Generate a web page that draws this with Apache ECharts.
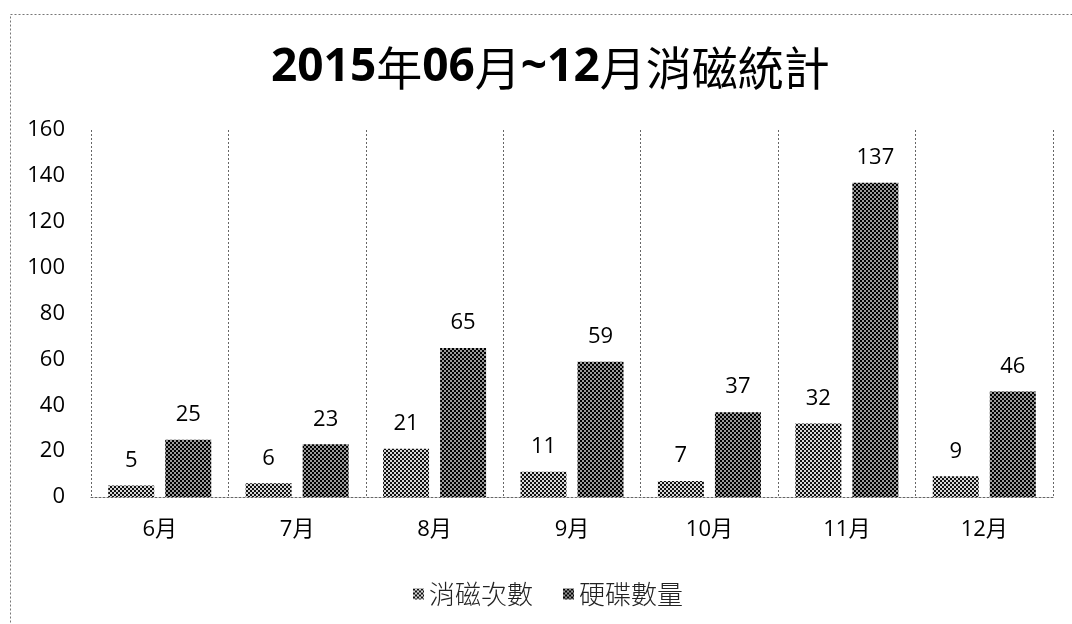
<!DOCTYPE html>
<html>
<head>
<meta charset="utf-8">
<script src="https://cdn.jsdelivr.net/npm/echarts@6/dist/echarts.min.js"></script>
<style>
  html, body { margin: 0; padding: 0; background: #fff; }
  #main { width: 1072px; height: 624px; }
</style>
</head>
<body>
<div id="main"></div>
<script>
  // 月份與數值
  var months = ['6月', '7月', '8月', '9月', '10月', '11月', '12月'];
  var seriesNames = ['消磁次數', '硬碟數量'];
  var degaussCount = [5, 6, 21, 11, 7, 32, 9];
  var diskCount = [25, 23, 65, 59, 37, 137, 46];
  var yTicks = [0, 20, 40, 60, 80, 100, 120, 140, 160];

  // 點狀花紋
  function makePattern(dark, gap) {
    var c = document.createElement('canvas');
    c.width = 4;
    c.height = 4;
    var ctx = c.getContext('2d');
    ctx.fillStyle = gap;
    ctx.fillRect(0, 0, 4, 4);
    ctx.fillStyle = dark;
    ctx.fillRect(0, 0, 2, 2);
    ctx.fillRect(2, 2, 2, 2);
    return { image: c, repeat: 'repeat' };
  }

  var numFont = '"Open Sans", "Noto Sans CJK TC", sans-serif';
  var cjkFont = '"Noto Sans CJK TC", sans-serif';
  var dotLine = { color: '#666', width: 1, type: [2, 2] };

  var chart = echarts.init(document.getElementById('main'));
  var option = {
    animation: false,
    backgroundColor: '#fff',
    graphic: [{
      type: 'rect',
      shape: { x: 10.5, y: 14.5, width: 1200, height: 800 },
      style: { fill: 'none', stroke: '#777', lineWidth: 1, lineDash: [2, 2] },
      silent: true
    }],
    title: {
      text: '{b|2015}{c|年}{b|06}{c|月}{b|~12}{c|月消磁統計}',
      left: 266,
      top: 40,
      textStyle: {
        rich: {
          b: { fontFamily: numFont, fontWeight: 'bold', fontSize: 46, color: '#000' },
          c: { fontFamily: cjkFont, fontWeight: 'normal', fontSize: 46, color: '#000' }
        }
      }
    },
    legend: {
      bottom: 12,
      left: 408,
      icon: 'rect',
      itemWidth: 11,
      itemHeight: 11,
      itemGap: 30,
      textStyle: { fontFamily: cjkFont, fontSize: 26, fontWeight: 300, color: '#222' },
      data: seriesNames
    },
    grid: { left: 91, right: 19, top: 130, bottom: 127 },
    xAxis: {
      type: 'category',
      data: months,
      axisLine: { show: true, lineStyle: dotLine },
      axisTick: { show: false },
      axisLabel: { fontFamily: numFont, fontSize: 22, color: '#000', margin: 22 },
      splitLine: { show: true, lineStyle: dotLine }
    },
    yAxis: {
      type: 'value',
      min: yTicks[0],
      max: yTicks[yTicks.length - 1],
      interval: 20,
      axisLine: { show: false },
      axisTick: { show: false },
      axisLabel: { fontFamily: numFont, fontSize: 22, color: '#000', margin: 26 },
      splitLine: { show: false }
    },
    series: [
      {
        name: seriesNames[0],
        type: 'bar',
        data: degaussCount,
        barWidth: 46,
        barGap: '24%',
        itemStyle: { color: makePattern('#111', '#d8d8d8') },
        label: { show: true, position: 'top', distance: 14, fontFamily: numFont, fontSize: 22, color: '#000' }
      },
      {
        name: seriesNames[1],
        type: 'bar',
        data: diskCount,
        barWidth: 46,
        itemStyle: { color: makePattern('#000', '#9a9a9a') },
        label: { show: true, position: 'top', distance: 14, fontFamily: numFont, fontSize: 22, color: '#000' }
      }
    ]
  };
  chart.setOption(option);
</script>
</body>
</html>
